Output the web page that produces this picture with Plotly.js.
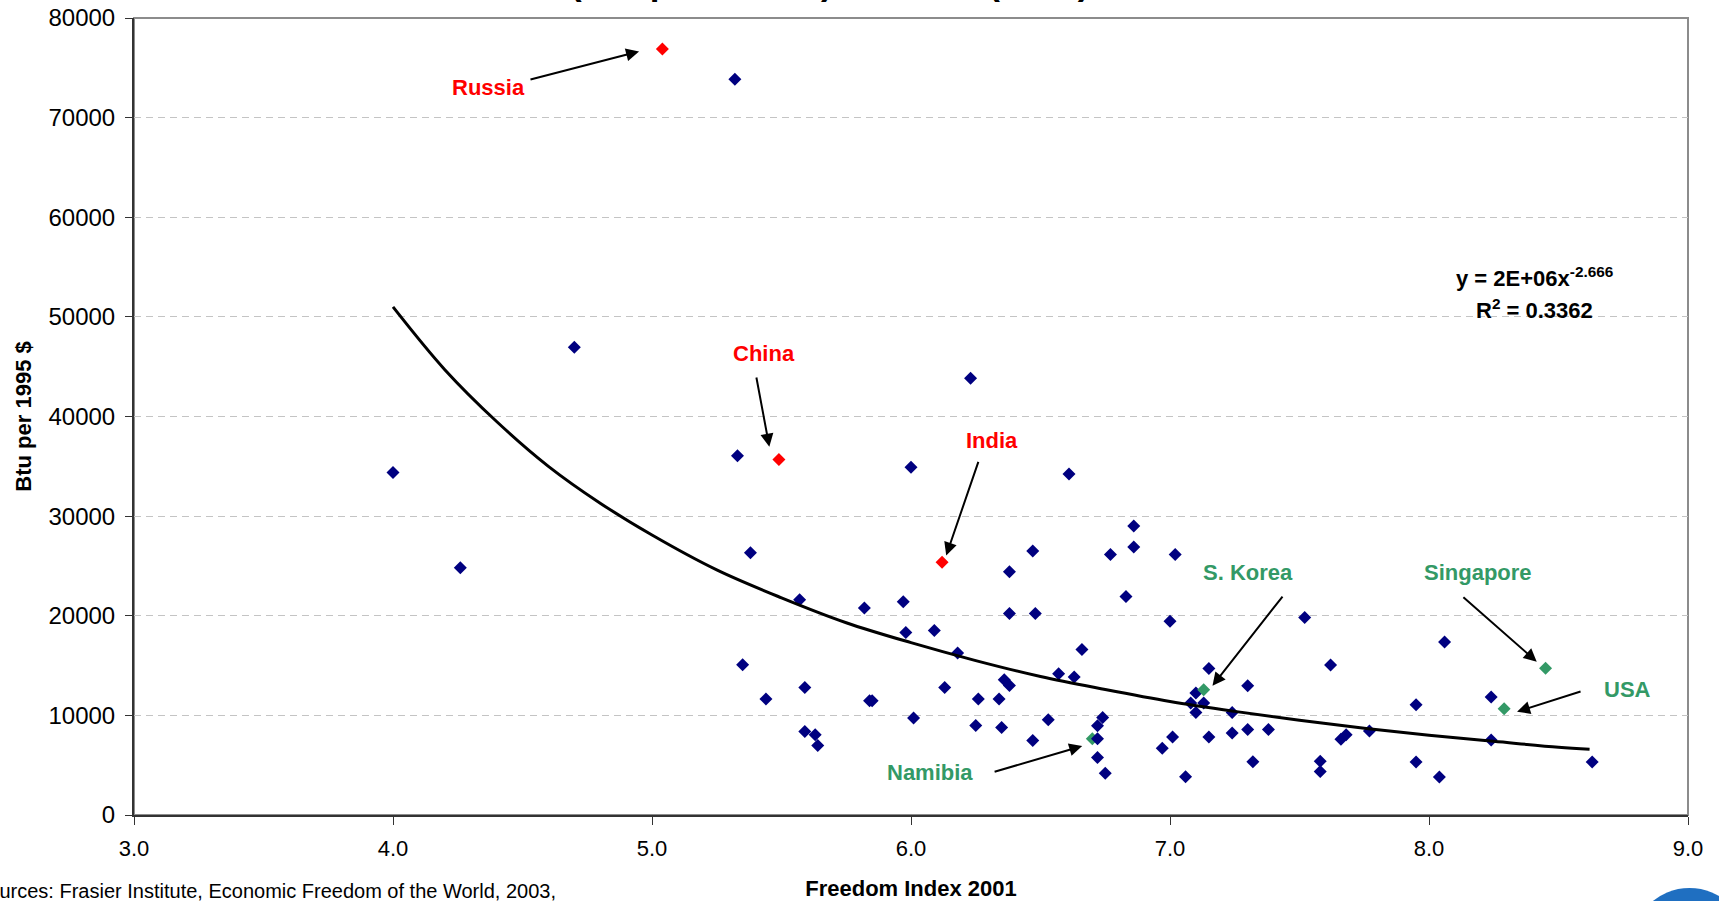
<!DOCTYPE html>
<html>
<head>
<meta charset="utf-8">
<script src="https://cdn.plot.ly/plotly-3.0.1.min.js"></script>
<style>
html, body { margin: 0; padding: 0; background: #ffffff; overflow: hidden; }
#chart { width: 1719px; height: 901px; }
</style>
</head>
<body>
<div id="chart"></div>
<script>
// ---------------- DATA ----------------
const xTickVals = [3, 4, 5, 6, 7, 8, 9];
const xTickText = ['3.0', '4.0', '5.0', '6.0', '7.0', '8.0', '9.0'];
const yTickVals = [0, 10000, 20000, 30000, 40000, 50000, 60000, 70000, 80000];
const yTickText = ['0', '10000', '20000', '30000', '40000', '50000', '60000', '70000', '80000'];

// all other countries (navy diamonds)
const otherX = [4.00, 4.26, 4.70, 5.32, 5.33, 5.38, 5.35, 5.44, 5.57, 5.59, 5.59, 5.63, 5.64, 5.82, 5.84, 5.85,
  6.00, 5.97, 5.98, 6.01, 6.09, 6.13, 6.18, 6.23, 6.26, 6.25, 6.34, 6.35, 6.36, 6.38, 6.38, 6.38,
  6.47, 6.48, 6.47, 6.53, 6.57, 6.61, 6.63, 6.66, 6.74, 6.72, 6.72, 6.72, 6.75, 6.77, 6.83, 6.86,
  6.86, 7.00, 7.02, 6.97, 7.01, 7.06, 7.10, 7.08, 7.13, 7.10, 7.15, 7.15, 7.24, 7.24, 7.30, 7.30,
  7.32, 7.38, 7.52, 7.62, 7.58, 7.58, 7.66, 7.68, 7.77, 7.95, 7.95, 8.04, 8.06, 8.24, 8.24, 8.63];
const otherY = [34370, 24820, 46950, 73850, 36050, 26330, 15090, 11640, 21600, 12810, 8380, 8050, 6970, 20790, 11470, 11470,
  34900, 21400, 18310, 9730, 18510, 12810, 16270, 43830, 11640, 8990, 11640, 8780, 13580, 13010, 24410, 20220,
  26490, 20220, 7480, 9560, 14180, 34230, 13850, 16600, 9790, 8950, 7650, 5770, 4190, 26160, 21930, 29000,
  26890, 19450, 26160, 6690, 7820, 3830, 12240, 11240, 11240, 10290, 14700, 7820, 10290, 8220, 12980, 8580,
  5340, 8580, 19820, 15060, 5400, 4360, 7610, 8050, 8420, 11070, 5330, 3820, 17370, 11840, 7540, 5330];

// highlighted countries (red)
const redNames = ['Russia', 'China', 'India'];
const redX = [5.04, 5.49, 6.12];
const redY = [76900, 35680, 25380];

// highlighted countries (green)
const greenNames = ['Namibia', 'S. Korea', 'Singapore', 'USA'];
const greenX = [6.70, 7.13, 8.45, 8.29];
const greenY = [7650, 12580, 14720, 10660];

// power trendline
const trendX = [4.0, 4.2, 4.4, 4.6, 4.8, 5.0, 5.25, 5.5, 5.75, 6.0, 6.25, 6.5, 6.75, 7.0, 7.25, 7.5, 7.75, 8.0, 8.25, 8.5, 8.62];
const trendY = [51000, 44700, 39500, 35000, 31300, 28100, 24600, 21800, 19300, 17300, 15500, 13900, 12600, 11400, 10400, 9500, 8700, 8000, 7400, 6800, 6600];

const equationText = 'y = 2E+06x<sup>-2.666</sup>';
const r2Text = 'R<sup>2</sup> = 0.3362';
const titleText = '(Btu per 1995 $) vs. EFW (2001)';
const sourceText = 'Sources: Frasier Institute, Economic Freedom of the World, 2003,';

// ---------------- STYLE / LAYOUT ----------------
const FONT = 'Liberation Sans, Arial, Helvetica, sans-serif';
const NAVY = '#000080';
const RED = '#ff0000';
const GREEN = '#339966';

// label placement (layout positions in data units)
const labelPlacement = {
  'Russia':    {tx: 4.367, ty: 73000, hx: 4.950, hy: 76640, ax: 4.525, ay: 73780},
  'China':     {tx: 5.432, ty: 46280, hx: 5.453, hy: 36970, ax: 5.402, ay: 44070},
  'India':     {tx: 6.313, ty: 37570, hx: 6.136, hy: 26050, ax: 6.262, ay: 35600},
  'Namibia':   {tx: 6.072, ty: 4230,  hx: 6.661, hy: 6930,  ax: 6.317, ay: 4290},
  'S. Korea':  {tx: 7.300, ty: 24360, hx: 7.164, hy: 12980, ax: 7.439, ay: 22080},
  'Singapore': {tx: 8.189, ty: 24360, hx: 8.416, hy: 15390, ax: 8.127, ay: 21980},
  'USA':       {tx: 8.768, ty: 12590, hx: 8.340, hy: 10370, ax: 8.591, ay: 12450}
};

const annotations = [];
function addLabel(name, color) {
  const p = labelPlacement[name];
  annotations.push({
    x: p.tx, y: p.ty, xref: 'x', yref: 'y', text: name, showarrow: false,
    xanchor: 'center', yanchor: 'middle',
    font: {family: FONT, size: 22, color: color, weight: 'bold'}
  });
  annotations.push({
    x: p.hx, y: p.hy, xref: 'x', yref: 'y', ax: p.ax, ay: p.ay, axref: 'x', ayref: 'y',
    text: '', showarrow: true, arrowhead: 2, arrowsize: 1.3, arrowwidth: 2, arrowcolor: '#000000',
    standoff: 0, startstandoff: 0
  });
}
redNames.forEach(n => addLabel(n, RED));
greenNames.forEach(n => addLabel(n, GREEN));

annotations.push({
  x: 8.407, y: 54000, xref: 'x', yref: 'y', text: equationText, showarrow: false,
  xanchor: 'center', yanchor: 'middle',
  font: {family: FONT, size: 22, color: '#000000', weight: 'bold'}
});
annotations.push({
  x: 8.409, y: 50790, xref: 'x', yref: 'y', text: r2Text, showarrow: false,
  xanchor: 'center', yanchor: 'middle',
  font: {family: FONT, size: 22, color: '#000000', weight: 'bold'}
});
// chart title (only its lowest part shows at the top edge)
annotations.push({
  x: 0.2799, y: 1.0183, xref: 'paper', yref: 'paper', text: titleText, showarrow: false,
  xanchor: 'left', yanchor: 'bottom', borderpad: 0,
  font: {family: FONT, size: 35, color: '#000000', weight: 'bold'}
});
// source note (cut off at the left edge)
annotations.push({
  x: -0.1030, y: -0.1110, xref: 'paper', yref: 'paper', text: sourceText, showarrow: false,
  xanchor: 'left', yanchor: 'bottom', borderpad: 0,
  font: {family: FONT, size: 20, color: '#000000'}
});

const traces = [
  { // Namibia (drawn beneath the navy markers)
    x: greenX.slice(0, 1), y: greenY.slice(0, 1), text: greenNames.slice(0, 1),
    type: 'scatter', mode: 'markers', hoverinfo: 'text',
    marker: {symbol: 'diamond', size: 10, color: GREEN, line: {width: 0}}
  },
  {
    x: otherX, y: otherY, type: 'scatter', mode: 'markers',
    marker: {symbol: 'diamond', size: 10, color: NAVY, line: {width: 0}}
  },
  {
    x: redX, y: redY, text: redNames, type: 'scatter', mode: 'markers', hoverinfo: 'text',
    marker: {symbol: 'diamond', size: 10, color: RED, line: {width: 0}}
  },
  {
    x: greenX.slice(1), y: greenY.slice(1), text: greenNames.slice(1),
    type: 'scatter', mode: 'markers', hoverinfo: 'text',
    marker: {symbol: 'diamond', size: 10, color: GREEN, line: {width: 0}}
  },
  {
    x: trendX, y: trendY, type: 'scatter', mode: 'lines', line: {color: '#000000', width: 3, shape: 'spline'}
  }
];

const layout = {
  width: 1719, height: 901,
  margin: {l: 134, r: 31, t: 18, b: 86, pad: 0},
  paper_bgcolor: '#ffffff', plot_bgcolor: '#ffffff',
  showlegend: false,
  font: {family: FONT, color: '#000000'},
  xaxis: {
    range: [3, 9], tickvals: xTickVals, ticktext: xTickText,
    showgrid: false, zeroline: false,
    showline: true, linecolor: '#333333', linewidth: 2,
    ticks: 'outside', ticklen: 8, tickwidth: 1, tickcolor: '#333333',
    ticklabelstandoff: 5,
    tickfont: {family: FONT, size: 22, color: '#000000'},
    title: {text: 'Freedom Index 2001', standoff: 33, font: {family: FONT, size: 22, color: '#000000', weight: 'bold'}},
    automargin: false
  },
  yaxis: {
    range: [0, 80000], tickvals: yTickVals, ticktext: yTickText,
    showgrid: true, gridcolor: '#c4c4c4', gridwidth: 1, griddash: '7px,5px',
    zeroline: false,
    showline: true, linecolor: '#333333', linewidth: 2,
    ticks: 'outside', ticklen: 7, tickwidth: 1, tickcolor: '#333333',
    ticklabelstandoff: 5,
    tickfont: {family: FONT, size: 24, color: '#000000'},
    title: {text: 'Btu per 1995 $', standoff: 11, font: {family: FONT, size: 22, color: '#000000', weight: 'bold'}},
    automargin: false
  },
  shapes: [
    {type: 'rect', xref: 'paper', yref: 'paper', x0: 0, x1: 1, y0: 0, y1: 1,
     line: {color: '#8c8c8c', width: 2}, fillcolor: 'rgba(0,0,0,0)', layer: 'below'},
    {type: 'circle', xref: 'paper', yref: 'paper', x0: 0.9633, x1: 1.0386, y0: -0.2397, y1: -0.0916,
     fillcolor: '#1f6fc1', line: {width: 0}, layer: 'above'}
  ],
  annotations: annotations
};

Plotly.newPlot('chart', traces, layout, {displayModeBar: false, responsive: false});
</script>
</body>
</html>
